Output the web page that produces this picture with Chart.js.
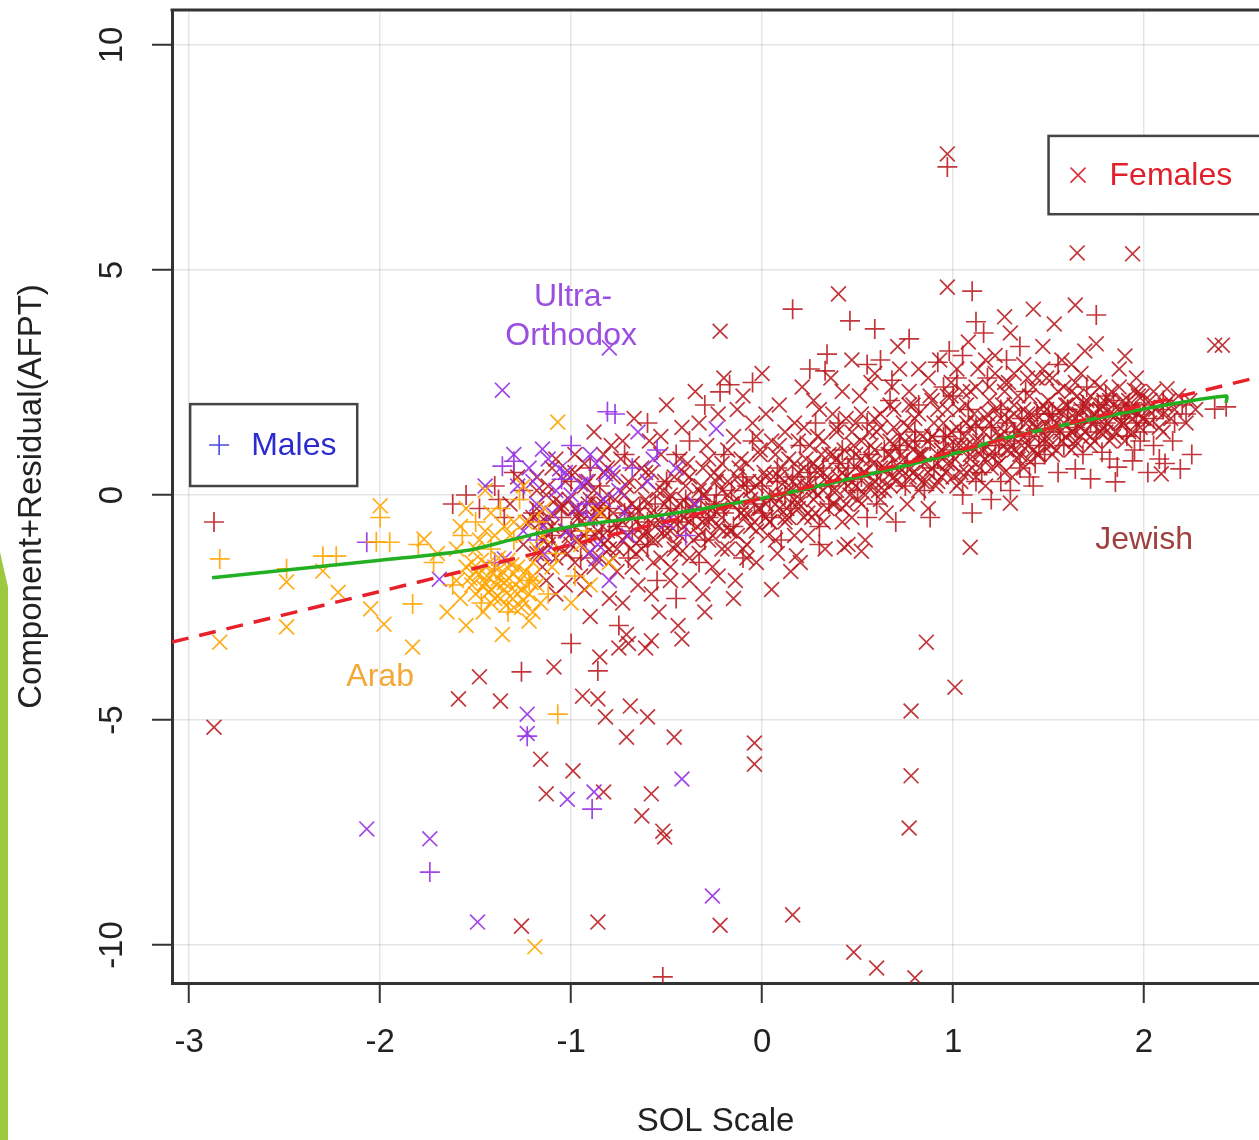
<!DOCTYPE html>
<html>
<head>
<meta charset="utf-8">
<script src="https://cdn.jsdelivr.net/npm/chart.js@4.4.1/dist/chart.umd.min.js"></script>
<style>
  html, body { margin: 0; padding: 0; background: #fff; overflow: hidden; }
  #wrap { position: relative; width: 1259px; height: 1140px; }
  #accent { position: absolute; left: 0; top: 552px; width: 8px; height: 588px; background: #9dc93f;
            clip-path: polygon(0 0, 100% 6%, 100% 100%, 0 100%); }
</style>
</head>
<body>
<div id="wrap">
  <canvas id="crPlot"></canvas>
  <div id="accent"></div>
</div>
<script>
// axis ticks
const xTicks = [-3, -2, -1, 0, 1, 2];
const yTicks = [-10, -5, 0, 5, 10];

// linear fit (dashed) and smoother (solid)
const fitX = [-3.09, 2.6];
const fitY = [-3.27, 2.62];
const smoothX = [-2.88, -2.0, -1.53, -1.3, -1.0, -0.5, 0.0, 0.46, 1.04, 1.25, 1.91, 2.43, 2.43];
const smoothY = [-1.84, -1.45, -1.22, -0.98, -0.7, -0.43, -0.07, 0.36, 0.96, 1.24, 1.84, 2.2, 2.05];

// Jewish, females (x): scattered outliers and spread
const jewishFemales = [
  [0.97,7.58],[1.65,5.38],[1.94,5.36],[0.97,4.62],[0.40,4.47],[-0.22,3.64],[2.37,3.33],[2.41,3.33],
  [1.64,4.22],[1.42,4.13],[1.27,3.96],[1.90,3.09],[1.75,3.36],[1.95,2.33],[2.12,2.36],[2.09,0.47],
  [1.09,-1.16],[1.30,-0.18],[0.86,-3.27],[1.01,-4.27],[0.78,-4.8],[0.78,-6.24],[0.77,-7.4],
  [-0.04,-5.51],[-0.04,-5.98],[0.16,-9.33],[0.48,-10.16],[0.60,-10.51],[0.80,-10.73],[-0.86,-9.49],
  [-1.26,-9.58],[-0.22,-9.56],[-1.59,-4.53],[-1.48,-4.04],[-1.37,-4.58],[-1.09,-3.82],[-1.16,-5.87],
  [-0.99,-6.13],[-1.13,-6.64],[-0.83,-6.6],[-0.94,-4.47],[-0.86,-4.53],[-0.82,-4.93],[-0.69,-4.69],
  [-0.60,-4.93],[-0.71,-5.38],[-0.46,-5.38],[-0.58,-6.64],[-0.63,-7.13],[-0.52,-7.47],[-0.51,-7.6],
  [-2.87,-5.16],[-0.85,-3.6],[-0.75,-3.4],[-0.7,-3.3],[-0.58,-3.24],[-0.42,-3.2],[-0.3,-2.6],
  [-0.15,-2.3],[0.05,-2.1],[0.2,-1.5],[0.18,-1.35],[0.45,-1.1],[0.52,-1.25],[0.43,-1.16],[-0.1,-1.2],
  [-1.32,-0.2],[-1.28,0.4],[-1.25,-1.1],[-1.22,-0.6],[-1.18,0.1],[-1.15,-1.6],[-1.12,-0.9],[-1.1,0.6],
  [-1.08,-2.2],[-1.05,-0.3],[-1.02,-1.3],[-0.98,0.9],[-0.96,-0.5],[-0.95,-1.8],[-0.93,0.2],[-0.91,-1.0],
  [-0.9,-2.7],[-0.88,1.4],[-0.86,-0.2],[-0.85,-1.4],[-0.83,0.5],[-0.81,-0.8],[-0.8,-2.3],[-0.79,1.1],
  [-0.77,-0.1],[-0.76,-1.7],[-0.74,0.8],[-0.73,-0.6],[-0.71,-3.1],[-0.7,0.3],[-0.69,-1.2],[-0.67,1.7],
  [-0.66,-0.3],[-0.65,-2.0],[-0.63,0.6],[-0.62,-0.9],[-0.61,-3.4],[-0.59,1.2],[-0.58,-0.4],[-0.57,-1.5],
  [-0.55,0.1],[-0.54,-2.6],[-0.53,0.9],[-0.51,-0.8],[-0.5,2.0],[-0.49,-0.1],[-0.48,-1.9],[-0.46,0.4],
  [-0.45,-1.1],[-0.44,-2.9],[-0.42,1.5],[-0.41,-0.5],[-0.39,0.7],[-0.38,-1.4],[-0.36,-0.2],[-0.35,2.3],
  [-0.33,-0.9],[-0.32,0.2],[-0.31,-2.2],[-0.29,1.1],[-0.28,-0.6],[-0.26,-1.6],[-0.25,0.5],[-0.23,1.8],
  [-0.22,-0.3],[-0.21,-1.2],[-0.2,2.6],[-0.18,0.0],[-0.17,-0.8],[-0.15,1.3],[-0.14,-1.9],[-0.12,0.6],
  [-0.11,-0.4],[-0.1,2.2],[-0.08,-1.1],[-0.07,0.3],[-0.05,1.6],[-0.04,-0.6],[-0.03,-1.5],[-0.01,0.9],
  [0.0,2.7],[0.02,-0.2],[0.03,-0.9],[0.05,1.2],[0.06,0.4],[0.08,-1.3],[0.09,2.0],[0.11,0.0],
  [0.12,-0.5],[0.14,0.8],[0.15,-1.7],[0.17,1.6],[0.18,0.2],[0.19,-0.3],[0.21,2.4],[0.22,0.6],
  [0.24,-0.9],[0.25,1.1],[0.27,0.1],[0.28,-0.4],[0.3,1.9],[0.31,0.9],[0.33,-1.2],[0.34,0.4],
  [0.36,2.6],[0.37,-0.2],[0.39,1.4],[0.41,0.7],[0.42,-0.6],[0.44,1.7],[0.45,0.2],[0.47,3.0],
  [0.48,1.1],[0.5,-0.1],[0.51,2.2],[0.53,0.5],[0.54,-1.0],[0.56,1.4],[0.57,0.8],[0.59,2.7],
  [0.61,0.1],[0.62,1.8],[0.64,0.6],[0.65,-0.4],[0.67,1.2],[0.68,2.4],[0.7,0.3],[0.71,3.3],
  [0.73,0.9],[0.74,1.6],[0.76,-0.2],[0.77,2.0],[0.79,1.0],[0.81,0.4],[0.82,2.8],[0.84,1.3],
  [0.85,0.7],[0.87,-0.3],[0.88,2.2],[0.9,1.6],[0.91,0.2],[0.93,3.0],[0.94,1.0],[0.96,0.5],
  [0.97,1.9],[0.99,2.5],[1.01,0.8],[1.02,1.5],[1.04,0.3],[1.05,2.3],[1.07,1.1],[1.08,3.4],
  [1.1,0.6],[1.11,1.8],[1.13,2.8],[1.14,0.9],[1.16,1.4],[1.17,0.2],[1.19,2.1],[1.21,1.2],
  [1.22,3.1],[1.24,0.7],[1.25,1.7],[1.27,2.5],[1.28,1.0],[1.3,3.6],[1.31,0.4],[1.33,1.5],
  [1.34,2.2],[1.36,1.1],[1.37,2.9],[1.39,0.8],[1.41,1.8],[1.42,1.3],[1.44,2.6],[1.45,0.9],
  [1.47,3.3],[1.48,1.6],[1.5,2.1],[1.51,1.1],[1.53,3.8],[1.54,1.9],[1.56,1.4],[1.58,2.4],
  [1.61,1.7],[1.62,2.9],[1.64,1.2],[1.65,2.2],[1.67,1.5],[1.69,3.2],[1.7,1.9],[1.72,1.3],
  [1.74,2.5],[1.76,1.7],[1.78,2.0],[1.81,1.6],[1.83,2.3],[1.85,1.4],[1.87,2.8],[1.88,1.9],
  [1.9,1.2],[1.92,2.1],[1.94,1.7],[1.96,2.6],[1.98,1.5],[2.02,1.9],[2.05,2.3],[2.08,1.5],
  [2.11,2.0],[2.14,1.7],[2.18,2.2],[2.22,1.6],[2.27,1.9]
];

// Jewish, females (x): dense band around the smoother
const jewishFemalesCore = [
  [-1.2,-0.5],[-1.15,-1.0],[-1.1,-0.7],[-1.05,-0.2],[-1.0,-1.1],[-0.95,-0.6],[-0.9,-0.1],[-0.87,-0.9],
  [-0.84,-0.4],[-0.8,-1.2],[-0.76,-0.7],[-0.72,0.0],[-0.68,-0.5],[-0.64,-1.0],[-0.6,-0.2],[-0.56,-0.7],
  [-0.52,0.1],[-0.47,-0.4],[-0.43,-0.9],[-0.4,0.2],[-0.37,-0.3],[-0.34,-0.7],[-0.3,0.0],[-0.27,-0.5],
  [-0.24,0.3],[-0.2,-0.8],[-0.16,-0.2],[-0.13,0.4],[-0.09,-0.5],[-0.06,0.1],[-0.02,-0.3],[0.01,0.5],
  [0.04,-0.6],[0.07,0.0],[0.1,0.6],[0.13,-0.3],[0.16,0.3],[0.2,-0.1],[0.23,0.8],[0.26,-0.5],
  [0.29,0.5],[0.32,0.1],[0.35,0.9],[0.38,-0.2],[0.4,0.4],[0.43,1.0],[0.46,0.0],[0.49,0.6],
  [0.52,1.2],[0.55,0.2],[0.58,0.7],[0.6,1.4],[0.63,0.3],[0.66,0.9],[0.69,1.5],[0.72,0.5],
  [0.75,1.2],[0.78,0.6],[0.8,1.7],[0.83,0.9],[0.86,0.3],[0.89,1.3],[0.92,0.7],[0.95,1.6],
  [0.98,1.1],[1.0,0.4],[1.03,1.9],[1.06,1.3],[1.09,0.9],[1.12,1.6],[1.15,1.0],[1.18,1.8],
  [1.2,0.6],[1.23,1.4],[1.26,2.0],[1.29,1.2],[1.32,1.8],[1.35,0.9],[1.38,1.6],[1.4,2.2],
  [1.43,1.5],[1.46,1.9],[1.49,1.3],[1.52,1.7],[1.55,2.3],[1.58,1.6],[1.6,2.0],[1.63,1.4],
  [1.66,1.8],[1.7,2.1],[1.73,1.6],[1.77,1.9],[1.8,1.4],[1.84,2.0],[1.89,1.6],[1.93,1.9],
  [1.97,2.2],[2.0,1.7],
  [-1.18,-1.3],[-1.18,-0.3],[-1.18,0.4],[-1.13,-0.6],[-1.13,-1.9],[-1.13,0.0],[-1.08,-1.4],[-1.08,-0.1],
  [-1.08,0.8],[-1.03,-0.8],[-1.03,-2.0],[-1.03,0.3],[-0.98,-1.5],[-0.98,-0.3],[-0.98,0.5],[-0.93,-0.9],
  [-0.93,-2.1],[-0.93,0.7],[-0.88,-0.5],[-0.88,-1.6],[-0.88,0.1],[-0.83,-1.1],[-0.83,0.9],[-0.83,-0.2],
  [-0.78,-0.4],[-0.78,-1.4],[-0.78,0.4],[-0.73,-1.0],[-0.73,-2.4],[-0.73,1.2],[-0.68,-0.2],[-0.68,-1.6],
  [-0.68,0.7],[-0.63,-0.7],[-0.63,-1.2],[-0.63,0.2],[-0.58,-1.0],[-0.58,0.5],[-0.58,-2.2],[-0.53,-0.5],
  [-0.53,-1.4],[-0.53,1.3],[-0.48,-0.8],[-0.48,0.0],[-0.48,-1.6],[-0.43,-0.2],[-0.43,0.8],[-0.43,-1.3],
  [-0.38,-0.6],[-0.38,-1.9],[-0.38,0.4],[-0.33,-1.3],[-0.33,0.1],[-0.33,1.6],[-0.28,-0.3],[-0.28,-1.0],
  [-0.28,0.8],[-0.23,-0.7],[-0.23,0.4],[-0.23,-1.8],[-0.18,-1.2],[-0.18,0.3],[-0.18,1.0],[-0.13,-0.1],
  [-0.13,-0.9],[-0.13,1.9],[-0.08,-0.4],[-0.08,0.7],[-0.08,-1.4],[-0.03,0.2],[-0.03,-0.8],[-0.03,1.3],
  [0.02,-0.5],[0.02,0.4],[0.02,1.8],[0.07,-0.2],[0.07,-1.0],[0.07,0.9],[0.12,0.3],[0.12,-0.6],
  [0.12,1.4],[0.17,-0.1],[0.17,0.7],[0.17,-0.9],[0.22,0.2],[0.22,-0.5],[0.22,1.5],[0.27,0.7],
  [0.27,-0.1],[0.27,2.1],[0.32,-0.6],[0.32,0.5],[0.32,1.2],[0.37,0.1],[0.37,0.9],[0.37,1.8],
  [0.42,-0.3],[0.42,0.5],[0.42,2.3],[0.47,0.3],[0.47,1.4],[0.47,-0.5],[0.52,0.8],[0.52,-0.2],
  [0.52,1.8],[0.57,0.2],[0.57,1.1],[0.57,2.5],[0.62,0.6],[0.62,-0.1],[0.62,1.5],[0.67,0.9],
  [0.67,0.2],[0.67,2.0],[0.72,1.3],[0.72,0.6],[0.72,2.8],[0.77,0.4],[0.77,1.5],[0.77,2.3],
  [0.82,0.9],[0.82,0.1],[0.82,1.8],[0.87,1.2],[0.87,0.5],[0.87,2.6],[0.92,0.9],[0.92,1.9],
  [0.92,0.3],[0.97,1.3],[0.97,0.7],[0.97,2.2],[1.02,1.1],[1.02,0.2],[1.02,2.8],[1.07,0.5],
  [1.07,1.6],[1.07,2.0],[1.12,1.2],[1.12,0.4],[1.12,2.4],[1.17,1.7],[1.17,0.8],[1.17,3.0],
  [1.22,0.9],[1.22,1.9],[1.22,2.7],[1.27,1.4],[1.27,0.5],[1.27,2.3],[1.32,1.0],[1.32,2.0],
  [1.32,2.7],[1.37,1.9],[1.37,1.3],[1.37,0.6],[1.42,1.6],[1.42,2.4],[1.42,1.0],[1.47,1.2],
  [1.47,2.0],[1.47,2.8],[1.52,1.5],[1.52,2.6],[1.52,0.9],[1.57,1.8],[1.57,1.2],[1.57,3.0],
  [1.62,1.4],[1.62,2.3],[1.62,1.0],[1.67,1.9],[1.67,1.3],[1.67,2.7],[1.72,1.7],[1.72,2.2],
  [1.72,1.1],[1.77,1.4],[1.77,2.4],[1.77,1.9],[1.82,1.8],[1.82,2.1],[1.82,1.2],[1.87,1.6],
  [1.87,2.4],[1.92,1.4],[1.92,1.9],[1.97,1.8],[1.97,2.3],[2.03,1.6],[2.03,2.1],[2.1,1.8],
  [2.1,1.4],[2.16,1.9],[2.24,2.1]
];

// Jewish, females (x): tight centre of the band
const jewishFemalesCentre = [
  [-1.16,-1.3],[-1.16,-0.6],[-1.12,-0.5],[-1.12,-1.1],[-1.12,0.2],[-1.06,-1.2],[-1.06,-0.3],
  [-1.01,-0.9],[-1.01,-0.1],[-1.01,0.5],[-0.96,-1.0],[-0.96,-0.4],[-0.91,-0.2],[-0.91,-1.3],
  [-0.91,0.3],[-0.86,-0.8],[-0.86,-0.3],[-0.81,-1.0],[-0.81,0.0],[-0.81,0.6],[-0.76,-0.7],
  [-0.76,-1.2],[-0.71,-0.3],[-0.71,0.2],[-0.71,-0.9],[-0.66,-0.6],[-0.66,-1.3],[-0.61,-0.1],
  [-0.61,-0.8],[-0.61,0.5],[-0.56,-0.5],[-0.56,-1.0],[-0.51,-0.2],[-0.51,0.3],[-0.51,-0.9],
  [-0.46,-0.6],[-0.46,-1.2],[-0.41,-0.1],[-0.41,0.5],[-0.41,-0.7],[-0.36,-0.4],[-0.36,-1.0],
  [-0.31,0.0],[-0.31,-0.6],[-0.31,0.6],[-0.26,-0.3],[-0.26,-0.9],[-0.21,0.1],[-0.21,-0.5],
  [-0.21,0.7],[-0.16,-0.2],[-0.16,-0.8],[-0.11,0.2],[-0.11,-0.4],[-0.11,0.8],[-0.06,-0.1],
  [-0.06,-0.7],[-0.01,0.3],[-0.01,-0.3],[-0.01,1.0],[0.04,0.0],[0.04,-0.6],[0.09,0.4],
  [0.09,-0.3],[0.09,1.1],[0.14,0.1],[0.14,-0.5],[0.19,0.5],[0.19,-0.2],[0.19,1.2],[0.24,0.2],
  [0.24,-0.4],[0.29,0.6],[0.29,0.0],[0.29,1.3],[0.34,0.3],[0.34,-0.3],[0.39,0.8],[0.39,0.1],
  [0.39,1.5],[0.44,0.4],[0.44,-0.2],[0.49,0.9],[0.49,0.2],[0.49,1.6],[0.54,0.5],[0.54,0.0],
  [0.59,1.0],[0.59,0.3],[0.59,1.7],[0.64,0.6],[0.64,0.1],[0.69,1.1],[0.69,0.4],[0.69,1.9],
  [0.74,0.8],[0.74,0.2],[0.79,1.2],[0.79,0.5],[0.79,2.0],[0.84,0.9],[0.84,0.3],[0.89,1.3],
  [0.89,0.6],[0.89,2.1],[0.94,1.0],[0.94,0.4],[0.99,1.4],[0.99,0.7],[0.99,2.2],[1.04,1.1],
  [1.04,0.5],[1.09,1.5],[1.09,0.8],[1.09,2.3],[1.14,1.2],[1.14,0.6],[1.19,1.6],[1.19,0.9],
  [1.19,2.4],[1.24,1.3],[1.24,0.7],[1.29,1.7],[1.29,1.0],[1.29,2.5],[1.34,1.4],[1.34,0.8],
  [1.39,1.8],[1.39,1.1],[1.39,2.6],[1.44,1.5],[1.44,0.9],[1.49,1.9],[1.49,1.2],[1.49,2.6],
  [1.54,1.6],[1.54,1.0],[1.59,2.0],[1.59,1.3],[1.64,1.7],[1.64,1.1],[1.64,2.5],[1.69,2.0],
  [1.69,1.4],[1.74,1.8],[1.74,1.2],[1.79,2.1],[1.79,1.5],[1.84,1.8],[1.84,1.3],[1.89,2.1],
  [1.89,1.6],[1.94,1.9],[1.94,1.4],[1.99,2.2],[1.99,1.7],[2.06,1.9],[2.13,2.1]
];

// Jewish, males (+)
const jewishMales = [
  [0.16,4.13],[0.46,3.87],[0.59,3.69],[0.77,3.47],[0.34,3.13],[0.33,2.76],[1.1,4.53],[1.12,3.85],
  [1.16,3.6],[1.75,4.0],[0.97,7.29],[-0.22,2.29],[-0.17,2.45],[0.55,2.9],[0.68,2.55],[0.92,2.95],
  [1.02,2.6],[1.64,0.58],[1.72,0.36],[1.85,0.29],[1.86,0.62],[1.94,0.76],[2.08,0.8],[2.11,0.7],
  [2.19,0.58],[1.91,1.31],[1.98,1.2],[2.05,1.1],[1.55,0.5],[1.42,0.2],[1.3,0.1],[1.2,-0.1],
  [1.48,0.9],[2.37,1.91],[2.43,1.96],[1.78,0.95],[1.35,0.6],[-0.9,0.6],[-0.7,-1.4],[-0.45,0.9],
  [-0.3,-1.0],[-0.1,0.4],[0.05,-0.5],[0.2,1.1],[0.3,-0.7],[0.45,0.6],[0.6,-0.2],[0.72,1.0],
  [0.85,0.1],[0.95,1.3],[1.05,0.0],[1.15,0.5],[1.25,1.9],[1.45,1.1],[1.6,1.9],[1.7,2.4],
  [0.1,-1.0],[-0.55,-1.9],[0.4,1.6],[0.82,2.0],[1.0,2.2],[-2.87,-0.6],[-1.62,-0.2],[-1.55,0.0],
  [-1.48,-0.3],[-1.4,0.2],[-1.35,-0.5],[-1.3,0.5],[-1.25,0.1],[-1.38,-0.1],[-1.2,-0.4],[-1.26,-3.93],
  [-0.86,-3.91],[-0.52,-10.71],[-1.0,-3.3],[-0.75,-2.9],
  [-1.1,-0.8],[-1.0,0.3],[-0.95,-1.4],[-0.85,0.2],[-0.8,-0.6],[-0.72,0.9],[-0.65,-0.5],[-0.6,-1.1],
  [-0.5,0.3],[-0.42,-0.4],[-0.38,1.2],[-0.33,-1.5],[-0.25,-0.2],[-0.2,0.9],[-0.15,-0.7],[-0.05,1.2],
  [0.0,-0.4],[0.08,0.6],[0.15,-0.3],[0.25,0.4],[0.28,1.6],[0.35,-0.2],[0.42,1.0],[0.5,0.1],
  [0.55,1.6],[0.62,0.5],[0.67,2.1],[0.75,0.2],[0.8,1.4],[0.9,0.6],[0.95,2.4],[1.0,1.0],
  [1.08,1.9],[1.12,0.3],[1.18,2.6],[1.22,0.9],[1.28,3.0],[1.32,1.4],[1.38,2.3],[1.43,0.7],
  [1.5,1.8],[1.55,2.9],[1.58,1.1],[1.65,1.6],[1.68,0.9],[1.75,1.4],[1.8,2.2],[1.82,0.8],
  [1.9,1.8],[1.95,1.0],[2.0,1.4],[2.02,0.5],[2.1,1.9],[2.15,1.2],[2.22,1.8],[2.25,0.9],
  [1.1,-0.4],[1.25,0.3],[1.4,0.4],[0.88,-0.5],[0.7,-0.6],[0.55,-0.5],[0.3,-1.1],[-0.1,-1.4],
  [-0.45,-2.3],[0.98,3.2],[1.05,3.1],[1.35,3.3],[0.62,3.0],[0.25,2.8],[-0.05,2.5],[-0.3,2.0],
  [-0.6,1.6]
];

// Jewish, males (+): close to the smoother
const jewishMalesCore = [
  [-1.1,-0.9],[-1.05,-0.5],[-1.0,-0.8],[-0.96,-0.4],[-0.92,-0.9],[-0.88,-0.5],[-0.84,-0.8],[-0.8,-0.3],
  [-0.76,-0.7],[-0.72,-0.4],[-0.68,-0.8],[-0.64,-0.3],[-0.6,-0.6],[-0.56,-0.2],[-0.52,-0.7],[-0.48,-0.3],
  [-0.44,-0.6],[-0.4,-0.1],[-0.36,-0.5],[-0.32,-0.1],[-0.28,-0.5],[-0.24,0.0],[-0.2,-0.4],[-0.16,0.1],
  [-0.12,-0.3],[-0.08,0.2],[-0.04,-0.2],[0.0,0.2],[0.04,-0.1],[0.08,0.3],[0.12,0.0],[0.16,0.4],
  [0.2,0.1],[0.24,0.5],[0.28,0.2],[0.32,0.6],[0.36,0.2],[0.4,0.7],[0.44,0.3],[0.48,0.8],
  [0.52,0.4],[0.56,0.9],[0.6,0.5],[0.64,1.0],[0.68,0.6],[0.72,1.1],[0.76,0.7],[0.8,1.2],
  [0.84,0.8],[0.88,1.2],[0.92,0.8],[0.96,1.3],[1.0,0.9],[1.04,1.4],[1.08,1.0],[1.12,1.5],
  [1.16,1.1],[1.2,1.5],[1.24,1.1],[1.28,1.6],[1.32,1.2],[1.36,1.7],[1.4,1.3],[1.44,1.8],
  [1.48,1.4],[1.52,1.8],[1.56,1.4],[1.6,1.9],[1.64,1.5],[1.68,2.0],[1.72,1.6],[1.76,2.0],
  [1.8,1.6],[1.84,2.1],[1.88,1.7],[1.92,2.0],[1.96,1.6],[2.0,2.0],[2.05,1.7],[2.1,2.1],
  [2.16,1.6],[2.2,2.0]
];

// Ultra-Orthodox
const orthodoxFemales = [
  [-0.80,3.27],[-1.36,2.33],[-2.07,-7.42],[-1.74,-7.64],[-1.49,-9.49],[-0.26,-8.91],[-0.42,-6.31],
  [-1.02,-6.76],[-0.88,-6.6],[-1.23,-4.87],[-1.23,-5.3],[-1.15,1.02],[-1.06,0.58],[-0.9,0.9],
  [-0.82,0.47],[-0.95,0.24],[-0.57,0.8],[-0.24,1.47],[-0.9,-0.53],[-0.87,-1.42],[-1.14,-1.31],
  [-1.35,-1.42],[-1.69,-1.87],[-1.0,0.0],[-0.75,0.1],[-1.2,0.3],[-1.1,-0.4],[-0.7,-0.9],[-0.6,0.3],
  [-0.45,0.6],[-0.35,-0.2],[-0.98,-1.0],[-1.25,-0.8],[-0.8,-1.9],[-1.3,0.9],[-1.45,0.2],[-0.65,1.4],
  [-0.5,-0.6],[-1.28,0.2],[-1.22,0.6],[-1.18,-0.2],[-1.12,0.8],[-1.08,0.1],[-1.03,0.5],[-0.97,-0.3],
  [-0.92,0.3],[-0.87,0.7],[-0.83,-0.1],[-0.78,0.5],[-0.72,-0.4],[-1.15,-0.7],[-1.02,-0.8],[-0.86,-1.1],
  [-0.9,-1.27]
];
const orthodoxMales = [
  [-1.36,0.64],[-1.3,0.75],[-1.05,0.35],[-0.77,1.8],[-0.81,1.85],[-0.92,-0.2],[-1.18,-1.0],[-0.68,0.6],
  [-1.4,-1.5],[-2.07,-1.05],[-1.74,-8.38],[-0.89,-6.98],[-1.23,-5.36],[-0.4,-0.9],[-0.55,1.0],[-1.0,1.1]
];

// Arab
const arabFemales = [
  [-2.84,-3.27],[-2.49,-1.93],[-2.49,-2.93],[-2.3,-1.69],[-2.22,-2.16],[-2.05,-2.53],[-1.98,-2.87],
  [-2.0,-0.24],[-1.83,-3.38],[-1.77,-0.98],[-1.7,-1.3],[-1.65,-2.6],[-1.6,-1.9],[-1.58,-0.7],
  [-1.55,-2.9],[-1.52,-1.5],[-1.5,-2.2],[-1.48,-1.0],[-1.46,-2.6],[-1.44,-1.8],[-1.42,-0.4],
  [-1.4,-2.3],[-1.38,-1.4],[-1.36,-3.1],[-1.34,-1.9],[-1.32,-0.9],[-1.3,-2.5],[-1.28,-1.6],
  [-1.26,-2.1],[-1.24,-0.6],[-1.22,-2.8],[-1.2,-1.8],[-1.18,-1.2],[-1.16,-2.4],[-1.14,-0.3],
  [-1.1,-1.6],[-1.07,1.62],[-1.19,-10.04],[-1.0,-2.4],[-0.95,-1.1],[-0.9,-2.0],[-0.85,-0.4],
  [-0.8,-1.5],[-1.5,-1.7],[-1.45,-1.95],[-1.4,-1.6],[-1.35,-2.1],[-1.3,-1.75],[-1.25,-2.35],
  [-1.2,-1.5],[-1.43,-2.15],[-1.33,-1.45],[-1.47,-1.45],[-1.27,-1.9],[-1.38,-1.85],[-1.55,-0.3],
  [-1.45,0.1],[-1.35,-0.7],[-1.25,0.2],[-1.15,-0.9],[-1.52,-2.0],[-1.48,-1.75],[-1.42,-2.4],
  [-1.39,-2.0],[-1.36,-1.7],[-1.32,-2.25],[-1.29,-2.0],[-1.24,-1.7],[-1.22,-2.2],[-1.18,-2.0],
  [-1.44,-1.55],[-1.34,-2.45],[-1.55,-1.6],[-1.6,-1.2],[-1.5,-1.2],[-1.4,-0.9],[-1.3,-0.6],
  [-1.45,-0.8],[-1.58,-2.3],[-1.2,-2.6],[-1.46,-2.05],[-1.41,-1.75],[-1.37,-2.3],[-1.31,-1.55],
  [-1.26,-2.5],[-1.21,-1.95],[-1.53,-1.85],[-1.35,-1.95],[-1.28,-2.2],[-1.42,-2.1]
];
const arabMales = [
  [-2.84,-1.42],[-2.49,-1.64],[-2.3,-1.36],[-2.23,-1.36],[-2.02,-1.04],[-2.0,-0.5],[-1.95,-1.05],
  [-1.83,-2.42],[-1.8,-1.1],[-1.72,-1.5],[-1.62,-2.0],[-1.57,-0.9],[-1.5,-0.6],[-1.47,-2.4],
  [-1.42,-1.2],[-1.37,-0.3],[-1.33,-2.6],[-1.3,-1.0],[-1.27,-0.1],[-1.22,-1.9],[-1.17,-0.6],
  [-1.12,-2.2],[-1.08,-1.3],[-1.07,-4.87],[-0.98,-1.8],[-0.92,-0.8]
];

const JEWISH = 'rgba(184,26,32,0.88)';
const ORTHODOX = 'rgba(150,50,230,0.9)';
const ARAB = 'rgba(255,165,0,0.9)';
const FONT = '"Liberation Sans", Arial, Helvetica, sans-serif';

const toXY = pts => pts.map(p => ({ x: p[0], y: p[1] }));
const pairs = (xs, ys) => xs.map((x, i) => ({ x: x, y: ys[i] }));

function markSet(label, pts, color, style, order) {
  return {
    type: 'scatter',
    label: label,
    data: toXY(pts),
    pointStyle: style,
    pointRadius: style === 'cross' ? 10 : 10.5,
    pointBorderWidth: 1.7,
    borderColor: color,
    backgroundColor: 'rgba(0,0,0,0)',
    order: order
  };
}

// frame top, rotated y tick labels, group labels and the two key boxes
const decorations = {
  id: 'decorations',
  afterDatasetsDraw(chart) {
    const ctx = chart.ctx;
    const area = chart.chartArea;
    const xs = chart.scales.x, ys = chart.scales.y;
    ctx.save();
    ctx.strokeStyle = '#333';
    ctx.lineWidth = 3;
    ctx.beginPath();
    ctx.moveTo(area.left - 1.5, area.top);
    ctx.lineTo(area.right, area.top);
    ctx.stroke();

    ctx.fillStyle = '#222';
    ctx.font = '33px ' + FONT;
    ctx.textAlign = 'center';
    ctx.textBaseline = 'middle';
    yTicks.forEach(v => {
      ctx.save();
      ctx.translate(113, ys.getPixelForValue(v));
      ctx.rotate(-Math.PI / 2);
      ctx.fillText(String(v), 0, 0);
      ctx.restore();
    });

    ctx.font = '32px ' + FONT;
    const label = (txt, x, y, color) => {
      ctx.fillStyle = color;
      ctx.fillText(txt, xs.getPixelForValue(x), ys.getPixelForValue(y));
    };
    label('Ultra-', -0.99, 4.4, '#9a4fe0');
    label('Orthodox', -1.0, 3.53, '#9a4fe0');
    label('Arab', -2.0, -4.04, '#f3a838');
    label('Jewish', 2.0, -1.0, '#a0403f');

    const keyBox = (x0, y0, x1, y1, sym, txt, symColor, txtColor) => {
      const l = xs.getPixelForValue(x0), t = ys.getPixelForValue(y0);
      const r = xs.getPixelForValue(x1), b = ys.getPixelForValue(y1);
      ctx.fillStyle = '#fff';
      ctx.fillRect(l, t, r - l, b - t);
      ctx.strokeStyle = '#444';
      ctx.lineWidth = 2.5;
      ctx.strokeRect(l, t, r - l, b - t);
      const cy = (t + b) / 2;
      ctx.strokeStyle = symColor;
      ctx.lineWidth = 1.6;
      ctx.beginPath();
      if (sym === '+') {
        ctx.moveTo(l + 19, cy); ctx.lineTo(l + 39, cy);
        ctx.moveTo(l + 29, cy - 10); ctx.lineTo(l + 29, cy + 10);
      } else {
        ctx.moveTo(l + 22, cy - 7.5); ctx.lineTo(l + 37, cy + 7.5);
        ctx.moveTo(l + 37, cy - 7.5); ctx.lineTo(l + 22, cy + 7.5);
      }
      ctx.stroke();
      ctx.fillStyle = txtColor;
      ctx.textAlign = 'left';
      ctx.fillText(txt, l + 61, cy + 1);
      ctx.textAlign = 'center';
    };
    keyBox(-2.995, 2.02, -2.12, 0.2, '+', 'Males', '#4a4ae0', '#2b2bd0');
    keyBox(1.5, 7.98, 2.7, 6.24, 'x', 'Females', '#e0303a', '#e0202a');
    ctx.restore();
  }
};

new Chart(document.getElementById('crPlot'), {
  data: {
    datasets: [
      {
        type: 'line', label: 'fit', data: pairs(fitX, fitY),
        borderColor: '#e8202a', borderWidth: 3.5, borderDash: [17, 11],
        pointRadius: 0, fill: false, order: 0
      },
      {
        type: 'line', label: 'smooth', data: pairs(smoothX, smoothY),
        borderColor: '#22b022', borderWidth: 3.5, pointRadius: 0,
        fill: false, tension: 0.3, order: 1
      },
      markSet('Arab +', arabMales, ARAB, 'cross', 2),
      markSet('Arab x', arabFemales, ARAB, 'crossRot', 3),
      markSet('Ultra-Orthodox +', orthodoxMales, ORTHODOX, 'cross', 4),
      markSet('Ultra-Orthodox x', orthodoxFemales, ORTHODOX, 'crossRot', 5),
      markSet('Jewish +', jewishMales, JEWISH, 'cross', 6),
      markSet('Jewish + core', jewishMalesCore, JEWISH, 'cross', 7),
      markSet('Jewish x', jewishFemales, JEWISH, 'crossRot', 8),
      markSet('Jewish x core', jewishFemalesCore, JEWISH, 'crossRot', 9),
      markSet('Jewish x centre', jewishFemalesCentre, JEWISH, 'crossRot', 10)
    ]
  },
  options: {
    responsive: true,
    maintainAspectRatio: false,
    animation: false,
    layout: { autoPadding: false, padding: { top: 10, right: 0, bottom: 0, left: 0 } },
    plugins: { legend: { display: false }, tooltip: { enabled: false } },
    scales: {
      x: {
        type: 'linear',
        min: -3.09,
        max: 2.602,
        afterFit: s => { s.height = 157; s.paddingLeft = 0; s.paddingRight = 0; },
        afterBuildTicks: s => { s.ticks = xTicks.map(v => ({ value: v })); },
        ticks: { includeBounds: false, padding: 20, color: '#222', font: { family: FONT, size: 33 } },
        grid: { color: 'rgba(0,0,0,0.1)', lineWidth: 1.5, drawTicks: true, tickLength: 20, tickColor: '#333', tickWidth: 2 },
        border: { display: true, color: '#333', width: 3 },
        title: { display: true, text: 'SOL Scale', color: '#222', padding: { top: 0, bottom: 2 },
                 font: { family: FONT, size: 33, lineHeight: 1 } }
      },
      y: {
        type: 'linear',
        min: -10.844,
        max: 10.778,
        afterFit: s => { s.width = 172; s.paddingTop = 0; s.paddingBottom = 0; },
        afterBuildTicks: s => { s.ticks = yTicks.map(v => ({ value: v })); },
        ticks: { display: false, includeBounds: false },
        grid: { color: 'rgba(0,0,0,0.1)', lineWidth: 1.5, drawTicks: true, tickLength: 20, tickColor: '#333', tickWidth: 2 },
        border: { display: true, color: '#333', width: 3 },
        title: { display: true, text: 'Component+Residual(AFPT)', color: '#222', padding: { top: 15, bottom: 0 },
                 font: { family: FONT, size: 33, lineHeight: 1 } }
      }
    }
  },
  plugins: [decorations]
});
</script>
</body>
</html>
